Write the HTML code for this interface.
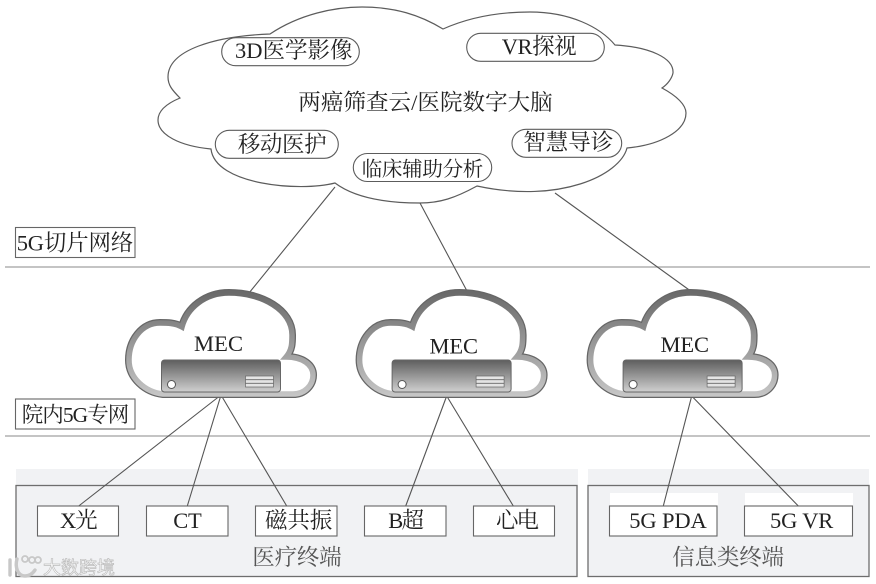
<!DOCTYPE html>
<html><head><meta charset="utf-8"><style>
html,body{margin:0;padding:0;background:#fff;width:876px;height:584px;overflow:hidden}
svg{display:block}
text{font-family:"Liberation Serif","Noto Serif CJK SC",serif;font-size:22.5px;fill:#222}
.g{fill:#555;}
</style></head><body>
<svg width="876" height="584" viewBox="0 0 876 584" xmlns="http://www.w3.org/2000/svg">
<defs>
<linearGradient id="sg" gradientUnits="userSpaceOnUse" x1="0" y1="293" x2="0" y2="396">
<stop offset="0" stop-color="#6a6a6a"/><stop offset=".45" stop-color="#949494"/><stop offset="1" stop-color="#c6c6c6"/>
</linearGradient>
<linearGradient id="sv" x1="0" y1="0" x2="0" y2="1">
<stop offset="0" stop-color="#5e5e5e"/><stop offset="1" stop-color="#d0d0d0"/>
</linearGradient>
<path id="mc" d="M163 394 L293 394 C305 394 313 385 313 375 C313 365 303 357 286 357 C292 350 292 343 292 335 C292 310 262 293 229 293 C205 293 187 308 182 327 C175 323 167 323 160 323 C142 323 129 340 129 360 C129 378 145 392 163 394 Z"/>
<g id="mec">
<use href="#mc" fill="#fff" stroke="#666" stroke-width="8"/>
<use href="#mc" fill="#fff" stroke="url(#sg)" stroke-width="5.5"/>
<rect x="161.5" y="360" width="119" height="32" rx="3" fill="url(#sv)" stroke="#666" stroke-width="1"/>
<circle cx="171.5" cy="384.5" r="4" fill="#fff" stroke="#555" stroke-width="1"/>
<rect x="245.5" y="376" width="28" height="11" fill="#e4e4e4" stroke="#666" stroke-width=".7"/>
<path d="M245.5 379.7H273.5M245.5 383.3H273.5" stroke="#666" stroke-width=".9"/>
</g>
</defs>
<rect width="876" height="584" fill="#fff"/>

<!-- panels -->
<rect x="16" y="469" width="562" height="108" fill="#f1f2f4"/>
<rect x="588" y="469" width="281" height="108" fill="#f1f2f4"/>
<rect x="16" y="485.5" width="561" height="91" fill="none" stroke="#6e6e6e" stroke-width="1.3"/>
<rect x="588" y="485.5" width="281" height="91" fill="none" stroke="#6e6e6e" stroke-width="1.3"/>
<rect x="610" y="493" width="108" height="14" fill="#fff"/>
<rect x="745" y="493" width="108" height="14" fill="#fff"/>

<!-- separators -->
<path d="M5 267H870M5 436H870" stroke="#b0b0b0" stroke-width="1.4" fill="none"/>

<!-- connectors -->
<g stroke="#555" stroke-width="1.1" fill="none">
<path d="M335 187L249 293M420 203L467 291M555 193L692 292"/>
<path d="M221 395L78.7 506M221 395L187.3 506M221 395L286.7 506"/>
<path d="M446.7 396L405.7 506M446.7 396L513.3 506"/>
<path d="M691.7 396L663.3 506M691.7 396L798.3 506"/>
</g>

<!-- main cloud -->
<path d="M270 34 C300 14 335 7 362 7 C395 7 420 15 443 29 C470 17 500 12 530 12 C570 12 600 27 615 45 C650 47 674 58 673 73 C672 78 668 84 662 88 C677 96 686 105 686 113 C686 131 660 145 627 148 C620 175 560 204 477 186 C455 198 440 203 420 203 C385 203 355 198 335 183 C300 192 215 185 211 149 C180 146 158 135 158 120 C158 110 168 103 180 98 C172 90 168 85 168 77 C168 50 215 36 270 34 Z" fill="#fff" stroke="#5c5c5c" stroke-width="1.2"/>

<!-- pills -->
<g fill="#fff" stroke="#5c5c5c" stroke-width="1.1">
<rect x="221.7" y="37.7" width="137.6" height="28" rx="14"/>
<rect x="466.7" y="33.3" width="137.6" height="28" rx="14"/>
<rect x="215.3" y="130.3" width="123" height="28" rx="14"/>
<rect x="512" y="129.3" width="109.7" height="28" rx="14"/>
<rect x="353.3" y="153.5" width="138.4" height="28" rx="14"/>
</g>
<text x="235" y="58" textLength="117.5">3D医学影像</text>
<text x="501.7" y="54" textLength="75">VR探视</text>
<text x="298.3" y="110" textLength="254.4">两癌筛查云/医院数字大脑</text>
<text x="237.7" y="152" textLength="89">移动医护</text>
<text x="523.3" y="150" textLength="90">智慧导诊</text>
<text x="361.7" y="176" textLength="121.6" style="font-size:20.5px">临床辅助分析</text>

<!-- label boxes -->
<g fill="#fff" stroke="#666" stroke-width="1.1">
<rect x="15.5" y="227.5" width="119.5" height="30"/>
<rect x="15.5" y="399" width="119.5" height="30"/>
<rect x="37.5" y="506" width="81" height="30"/>
<rect x="146.5" y="506" width="81.5" height="30"/>
<rect x="255.5" y="506" width="81.5" height="30"/>
<rect x="364.5" y="506" width="81.5" height="30"/>
<rect x="473.5" y="506" width="81" height="30"/>
<rect x="609.5" y="506" width="107.5" height="30"/>
<rect x="744.5" y="506" width="108" height="30"/>
</g>
<text x="16.7" y="250.5" textLength="116.6">5G切片网络</text>
<text x="21.7" y="422" textLength="107.6" style="font-size:21.5px">院内5G专网</text>

<!-- MEC clouds -->
<use href="#mec"/>
<use href="#mec" x="230.6"/>
<use href="#mec" x="461.6"/>
<text x="194" y="351" textLength="49">MEC</text>
<text x="429.5" y="353.5" textLength="48.5">MEC</text>
<text x="660.5" y="352" textLength="48.5">MEC</text>

<!-- terminals -->
<text x="60" y="528" textLength="37.7">X光</text>
<text x="173.3" y="528" textLength="28.4">CT</text>
<text x="265" y="528" textLength="67.3">磁共振</text>
<text x="388.3" y="528" textLength="35.7">B超</text>
<text x="496" y="528" textLength="43">心电</text>
<text x="629.3" y="528" textLength="77.4">5G PDA</text>
<text x="770" y="528" textLength="63.3">5G VR</text>
<text class="g" x="252.3" y="565" textLength="89.4">医疗终端</text>
<text class="g" x="672.3" y="565" textLength="111.7">信息类终端</text>

<!-- watermark -->
<g fill="none" stroke="#c8c8c8" stroke-width="3.4" stroke-linecap="round">
<path d="M10 560V575M17 559C15 566 17 576 25 576C30 576 33 573 35 570"/>
<circle cx="25" cy="559" r="3" stroke-width="1.8"/><circle cx="32" cy="560" r="3" stroke-width="1.8"/><circle cx="38" cy="560" r="3" stroke-width="1.8"/>
</g>
<text x="43" y="574" textLength="72" style="font-size:18px;fill:#fff;stroke:#bdbdbd;stroke-width:.7;font-family:'Liberation Sans','Noto Sans CJK SC',sans-serif">大数跨境</text>
</svg>
</body></html>
